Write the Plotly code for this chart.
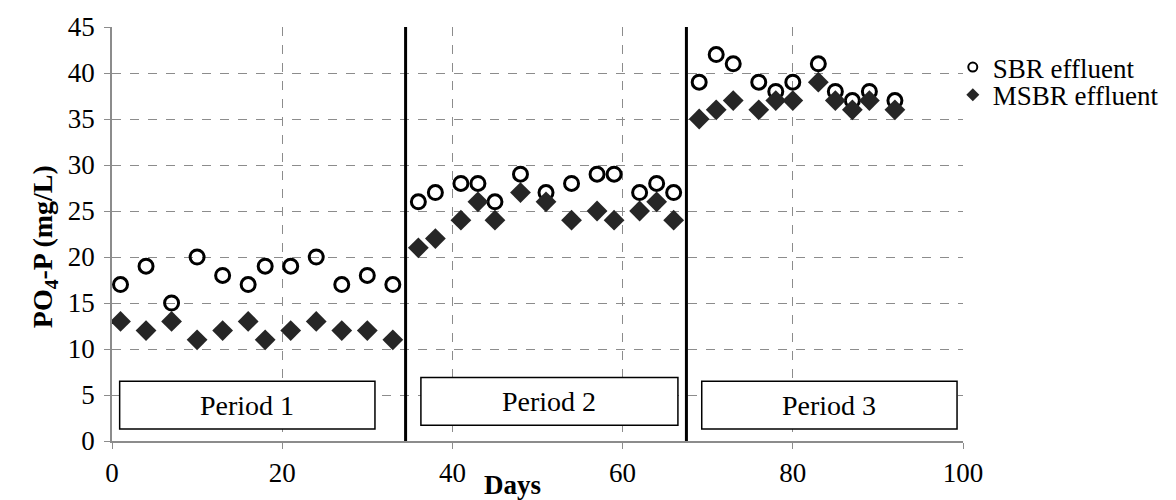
import plotly.graph_objects as go

# Data
days = [1, 4, 7, 10, 13, 16, 18, 21, 24, 27, 30, 33,
        36, 38, 41, 43, 45, 48, 51, 54, 57, 59, 62, 64, 66,
        69, 71, 73, 76, 78, 80, 83, 85, 87, 89, 92]
sbr = [17, 19, 15, 20, 18, 17, 19, 19, 20, 17, 18, 17,
       26, 27, 28, 28, 26, 29, 27, 28, 29, 29, 27, 28, 27,
       39, 42, 41, 39, 38, 39, 41, 38, 37, 38, 37]
msbr = [13, 12, 13, 11, 12, 13, 11, 12, 13, 12, 12, 11,
        21, 22, 24, 26, 24, 27, 26, 24, 25, 24, 25, 26, 24,
        35, 36, 37, 36, 37, 37, 39, 37, 36, 37, 36]
x_ticks = [0, 20, 40, 60, 80, 100]
y_ticks = [0, 5, 10, 15, 20, 25, 30, 35, 40, 45]
period_dividers = [34.5, 67.5]
period_labels = ["Period 1", "Period 2", "Period 3"]
period_x0 = [0.9, 36.3, 69.3]
period_x1 = [30.9, 66.5, 99.3]
period_y0 = [1.3, 1.7, 1.3]
period_y1 = [6.5, 6.9, 6.5]

FONT = "Liberation Serif, Times New Roman, serif"
GRID = "#8c8c8c"
FS = 27

fig = go.Figure()
fig.add_trace(go.Scatter(
    x=days, y=sbr, mode="markers", name="SBR effluent", showlegend=False,
    marker=dict(symbol="circle-open", size=14, color="black", line=dict(width=3, color="black")),
))
fig.add_trace(go.Scatter(
    x=days, y=msbr, mode="markers", name="MSBR effluent", showlegend=False,
    marker=dict(symbol="diamond", size=16, color="#262626"),
))
# legend-only entries with small markers
fig.add_trace(go.Scatter(
    x=[None], y=[None], mode="markers", name="SBR effluent", legend="legend",
    marker=dict(symbol="circle-open", size=9, color="black", line=dict(width=2, color="black")),
))
fig.add_trace(go.Scatter(
    x=[None], y=[None], mode="markers", name="MSBR effluent", legend="legend2",
    marker=dict(symbol="diamond", size=10, color="#262626"),
))

shapes = []
for xv in period_dividers:
    shapes.append(dict(type="line", xref="x", yref="y", x0=xv, x1=xv, y0=0, y1=45,
                       line=dict(color="black", width=3), layer="above"))
annotations = []
for lab, a, b, c, d in zip(period_labels, period_x0, period_x1, period_y0, period_y1):
    shapes.append(dict(type="rect", xref="x", yref="y", x0=a, x1=b, y0=c, y1=d,
                       fillcolor="white", line=dict(color="black", width=1.5), layer="above"))
    annotations.append(dict(x=(a + b) / 2, y=(c + d) / 2, xref="x", yref="y", text=lab,
                            showarrow=False, font=dict(family=FONT, size=28, color="black")))

# axis titles
annotations.append(dict(x=0.471, y=-0.106, xref="paper", yref="paper", text="<b>Days</b>",
                        showarrow=False, xanchor="center", yanchor="middle",
                        font=dict(family=FONT, size=27, color="black")))
annotations.append(dict(x=-0.079, y=0.470, xref="paper", yref="paper",
                        text="<b>PO<sub>4</sub>-P (mg/L)</b>", textangle=-90,
                        showarrow=False, xanchor="center", yanchor="middle",
                        font=dict(family=FONT, size=28, color="black")))

leg_common = dict(xanchor="left", yanchor="middle", bgcolor="rgba(0,0,0,0)",
                  font=dict(family=FONT, size=FS, color="black"), itemwidth=30,
                  borderwidth=0)
fig.update_layout(
    width=1176, height=500,
    margin=dict(l=112, r=204, t=25, b=58),
    paper_bgcolor="white", plot_bgcolor="white",
    font=dict(family=FONT, size=FS, color="black"),
    shapes=shapes, annotations=annotations,
    legend=dict(x=0.988, y=0.902, **leg_common),
    legend2=dict(x=0.988, y=0.835, **leg_common),
)
fig.update_xaxes(
    range=[0, 100], tickvals=x_ticks,
    showgrid=True, gridcolor=GRID, griddash="dash", gridwidth=1,
    showline=True, linecolor=GRID, linewidth=1.5,
    ticks="outside", ticklen=6, tickcolor=GRID, ticklabelstandoff=1,
    zeroline=False, tickfont=dict(family=FONT, size=FS),
)
fig.update_yaxes(
    range=[0, 45], tickvals=y_ticks,
    showgrid=True, gridcolor=GRID, griddash="dash", gridwidth=1,
    showline=True, linecolor=GRID, linewidth=1.5,
    ticks="outside", ticklen=6, tickcolor=GRID, ticklabelstandoff=4,
    zeroline=False, tickfont=dict(family=FONT, size=FS),
)

fig.write_html("out.html")
